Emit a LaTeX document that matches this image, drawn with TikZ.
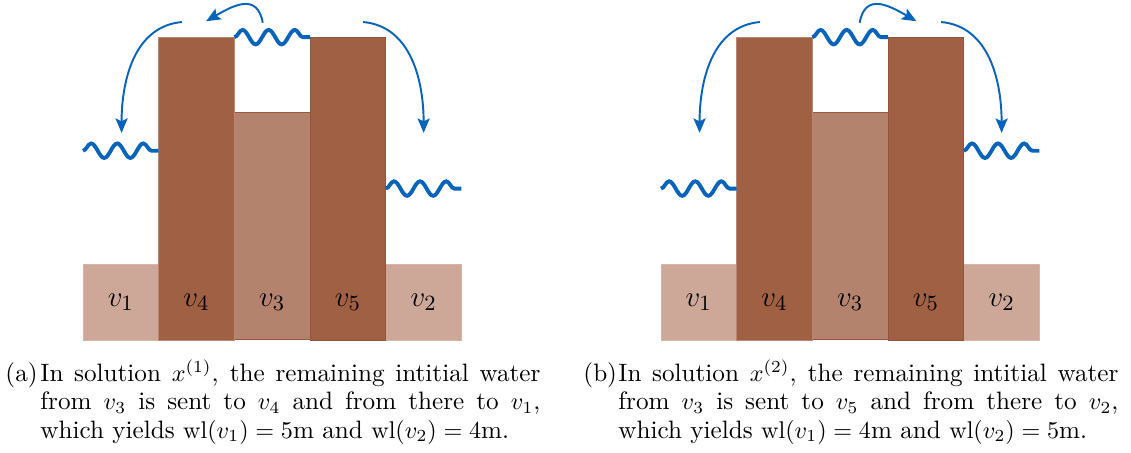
\documentclass[tikz,border=0pt]{standalone}
\usepackage{amsmath}
\usetikzlibrary{arrows.meta,decorations.pathmorphing}

\definecolor{wall}{RGB}{160,96,67}
\definecolor{pool}{RGB}{180,131,109}
\definecolor{ground}{RGB}{205,168,153}
\definecolor{water}{RGB}{8,100,186}

\tikzset{
  wave/.style={water, line width=1.6pt, decorate,
    decoration={snake, segment length=10.8pt, amplitude=3pt}},
  flow/.style={water, line width=0.8pt, -{Stealth[length=6pt,width=5pt,inset=1.2pt]}},
  cell/.style={font=\fontsize{12.5}{15}\selectfont, inner sep=1pt},
  capline/.style={anchor=base west, inner sep=0pt, font=\fontsize{10.4}{12.5}\selectfont}
}
\newcommand{\fullline}[1]{\makebox[206.7pt][s]{#1}}

\begin{document}
\begin{tikzpicture}[x=1.1cm, y=1.1cm]
\useasboundingbox (-1.096,-1.480) rectangle (13.844,4.491);

% ── Panels: shift / left level / right level / top flow / name ──
\foreach \ox/\wa/\wb/\fs/\fe/\fout/\fin/\p in
    {0/2.5/2/2.375/1.625/100/30/a, 7.635/2/2.5/2.625/3.375/80/150/b} {
  \begin{scope}[shift={(\ox,0)}]
    % blocks
    \filldraw[fill=ground, draw=ground!85!white, line width=0.3pt] (0,0) rectangle (1,1);
    \filldraw[fill=ground, draw=ground!85!white, line width=0.3pt] (4,0) rectangle (5,1);
    \filldraw[fill=pool, draw=wall!95!black, line width=0.4pt] (2,0) rectangle (3,3);
    \filldraw[fill=wall, draw=wall!75!white, line width=0.3pt] (1,0) rectangle (2,4);
    \filldraw[fill=wall, draw=wall!90!black, line width=0.3pt] (3,0) rectangle (4,4);
    \node[cell] (v1\p) at (0.5,0.5) {$v_1$};
    \node[cell] (v4\p) at (1.5,0.5) {$v_4$};
    \node[cell] (v3\p) at (2.5,0.5) {$v_3$};
    \node[cell] (v5\p) at (3.5,0.5) {$v_5$};
    \node[cell] (v2\p) at (4.5,0.5) {$v_2$};

    % water levels
    \coordinate (wl\p) at (0,\wa);  \coordinate (wlr\p) at (1,\wa);
    \coordinate (wt\p) at (2,4);    \coordinate (wtr\p) at (3,4);
    \coordinate (wr\p) at (4,\wb);  \coordinate (wrr\p) at (5,\wb);
    \draw[wave] (wl\p) -- (wlr\p);
    \draw[wave] (wt\p) -- (wtr\p);
    \draw[wave] (wr\p) -- (wrr\p);

    % flows
    \coordinate (ts\p) at (\fs,4.19);  \coordinate (te\p) at (\fe,4.21);
    \coordinate (ls\p) at (1.308,4.2); \coordinate (le\p) at (0.51,2.735);
    \coordinate (rs\p) at (3.70,4.2);  \coordinate (re\p) at (4.50,2.735);
    \draw[flow] (ts\p) to[out=\fout, in=\fin, looseness=1.4] (te\p);
    \draw[flow] (ls\p) to[out=185, in=90] (le\p);
    \draw[flow] (rs\p) to[out=-5, in=90] (re\p);
  \end{scope}
}

% ── Captions ──
\node[capline] (taga) at (-1.030,-0.551) {(a)};
\node[capline] (capa1) at (-0.568,-0.551) {\fullline{In solution $x^{(1)}$, the remaining intitial water}};
\node[capline] (capa2) at (-0.568,-0.925) {\fullline{from $v_3$ is sent to $v_4$ and from there to $v_1$,}};
\node[capline] (capa3) at (-0.568,-1.299) {which yields $\mathrm{wl}(v_1) = 5$m and $\mathrm{wl}(v_2) = 4$m.};

\node[capline] (tagb) at (6.605,-0.551) {(b)};
\node[capline] (capb1) at (7.067,-0.551) {\fullline{In solution $x^{(2)}$, the remaining intitial water}};
\node[capline] (capb2) at (7.067,-0.925) {\fullline{from $v_3$ is sent to $v_5$ and from there to $v_2$,}};
\node[capline] (capb3) at (7.067,-1.299) {which yields $\mathrm{wl}(v_1) = 4$m and $\mathrm{wl}(v_2) = 5$m.};

\end{tikzpicture}
\end{document}
